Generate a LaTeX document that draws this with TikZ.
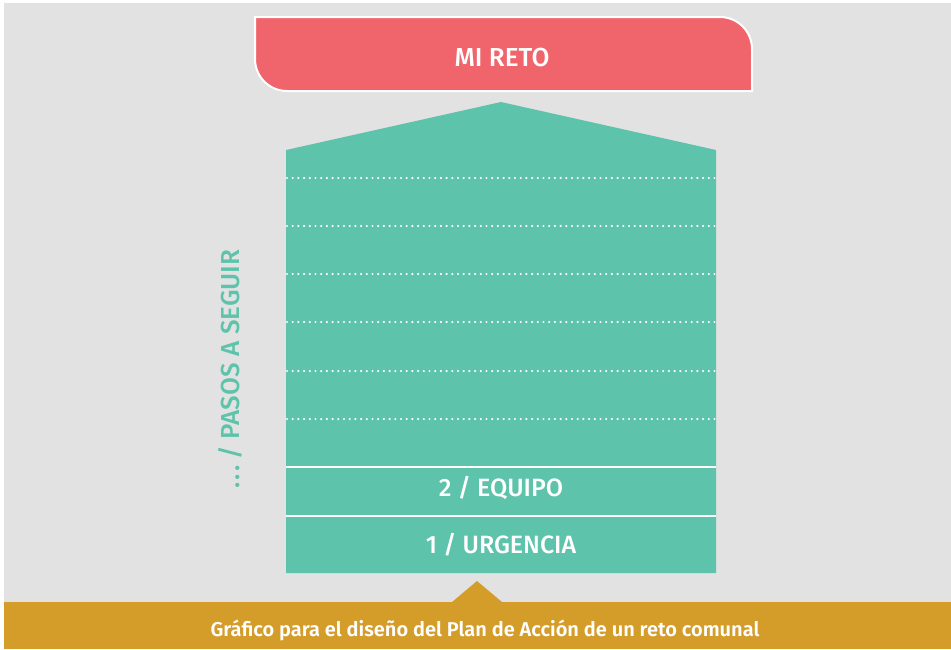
\documentclass[tikz,border=0pt]{standalone}
\usepackage{fontspec}
\newfontfamily\lbl[UprightFont=* Medium]{Fira Sans}
\newfontfamily\lblsb[UprightFont=* SemiBold]{Fira Sans}
\definecolor{bggray}{HTML}{E2E2E2}
\definecolor{teal}{HTML}{5EC3AB}
\definecolor{coral}{HTML}{F0656B}
\definecolor{gold}{HTML}{D49D2A}
\tikzset{
  dotline/.style={white, line width=2.4pt, line cap=round, dash pattern=on 0pt off 5.7pt},
  solidline/.style={white, line width=2pt},
  whitelbl/.style={text=white, font=\lbl\fontsize{25}{28}\selectfont, inner sep=0pt},
}
\begin{document}
\begin{tikzpicture}[x=1pt,y=-1pt]
\useasboundingbox (0,0) rectangle (951,649);
\fill[white] (0,0) rectangle (951,649);
\fill[bggray] (4,3) rectangle (951,649);
% gold band
\fill[gold] (4,602) rectangle (951,649);
\fill[gold] (452,602) -- (477,581) -- (502,602) -- cycle;
\node[text=white, font=\lblsb\fontsize{20}{24}\selectfont, inner sep=0pt] (caption) at (485,630) {Gráfico para el diseño del Plan de Acción de un reto comunal};
% red box
\draw[white, line width=2pt, fill=coral]
  (255,17) -- (720,17) arc[start angle=-90, end angle=0, radius=32]
  -- (752,91) -- (287,91) arc[start angle=90, end angle=180, radius=32] -- cycle;
\node[whitelbl, font=\lbl\fontsize{26}{30}\selectfont] (reto) at (502,58) {MI RETO};
% green house
\fill[teal] (286,150) -- (501,102) -- (716,150) -- (716,573) -- (286,573) -- cycle;
\foreach \yy in {178,226,274,322,371,419} {
  \draw[dotline] (287,\yy) -- (717,\yy);
}
\draw[solidline] (286,467) -- (716,467);
\draw[solidline] (286,516) -- (716,516);
\node[whitelbl] (equipo) at (501,488) {2 / EQUIPO};
\node[whitelbl] (urgencia) at (501,545) {1 / URGENCIA};
% side text
\node[text=teal, font=\lbl\fontsize{26}{28}\selectfont, inner sep=0pt, rotate=90] (pasos) at (230,369) {.\kern2pt.\kern2pt.\ / PASOS A SEGUIR};
\end{tikzpicture}
\end{document}
